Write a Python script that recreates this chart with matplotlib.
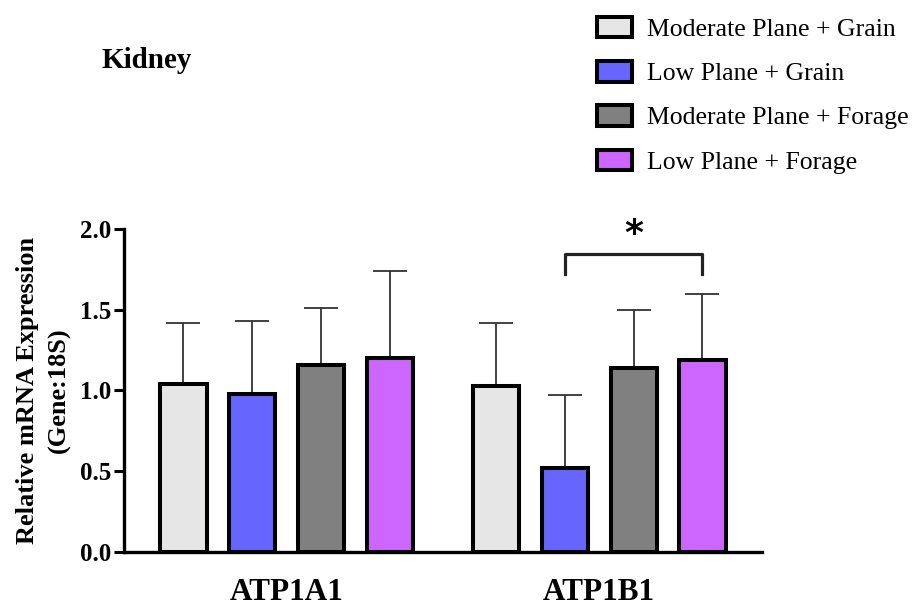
import matplotlib
matplotlib.use("Agg")
import matplotlib.pyplot as plt
from matplotlib.patches import Patch
import numpy as np

plt.rcParams['font.family'] = ['Liberation Serif', 'DejaVu Serif']

genes = ["ATP1A1", "ATP1B1"]
groups = ["Moderate Plane + Grain", "Low Plane + Grain",
          "Moderate Plane + Forage", "Low Plane + Forage"]
colors = ["#e6e6e6", "#6666ff", "#808080", "#cc66ff"]

# mean relative expression per gene (rows follow `groups`)
means = [
    [1.04, 1.03],
    [0.98, 0.52],
    [1.16, 1.14],
    [1.20, 1.19],
]
# upper error (SD) per gene
errors = [
    [0.38, 0.39],
    [0.45, 0.45],
    [0.35, 0.36],
    [0.54, 0.41],
]

fig = plt.figure(figsize=(9.19, 6.11), dpi=100)
ax = fig.add_axes([0.135, 0.0966, 0.694, 0.5286])

x = np.arange(len(genes))
offsets = np.array([-1.5, -0.5, 0.5, 1.5]) * 0.22
width = 0.148

for i in range(len(groups)):
    xs = x + offsets[i]
    ax.bar(xs, means[i], width=width, color=colors[i], edgecolor="black",
           linewidth=2.9, zorder=3)
    ax.errorbar(xs, means[i], yerr=[np.zeros(len(genes)), errors[i]],
                fmt="none", ecolor="#333333", elinewidth=1.3, capsize=12,
                capthick=1.3, zorder=2)

ax.set_xlim(-0.52, 1.52)
ax.set_ylim(0, 2.0)
ax.set_yticks([0.0, 0.5, 1.0, 1.5, 2.0])
ax.set_yticklabels(["0.0", "0.5", "1.0", "1.5", "2.0"], fontsize=18,
                   fontweight="bold")
ax.set_xticks(x)
ax.set_xticklabels(genes, fontsize=22.5, fontweight="bold")
ax.tick_params(axis="x", length=0, pad=19)
ax.tick_params(axis="y", width=2.2, length=7, pad=2)
for side in ("top", "right"):
    ax.spines[side].set_visible(False)
for side in ("left", "bottom"):
    ax.spines[side].set_linewidth(2.4)

ax.set_ylabel("Relative mRNA Expression\n(Gene:18S)", fontsize=19,
              fontweight="bold", labelpad=7, linespacing=1.45)

# significance bracket between Low Plane + Grain and Low Plane + Forage on ATP1B1
xa = x[1] + offsets[1]
xb = x[1] + offsets[3]
y_top, y_end = 1.845, 1.72
ax.plot([xa, xa, xb, xb], [y_end, y_top, y_top, y_end], color="#222222",
        linewidth=2.3, clip_on=False)
ax.text((xa + xb) / 2, 1.97, "*", ha="center", va="center", fontsize=26,
        fontweight="bold", family="DejaVu Sans", clip_on=False)

fig.text(101 / 919, 1 - 61 / 611, "Kidney", fontsize=21, fontweight="bold",
         va="center", ha="left")

handles = [Patch(facecolor=c, edgecolor="black", linewidth=2.9) for c in colors]
fig.legend(handles, groups, loc="upper left",
           bbox_to_anchor=(579 / 919, 1 + 1 / 611), frameon=False,
           fontsize=18.5, handlelength=1.35, handleheight=0.85,
           handletextpad=0.6, labelspacing=0.78, borderpad=0.2)

fig.savefig("out.png", dpi=100)
